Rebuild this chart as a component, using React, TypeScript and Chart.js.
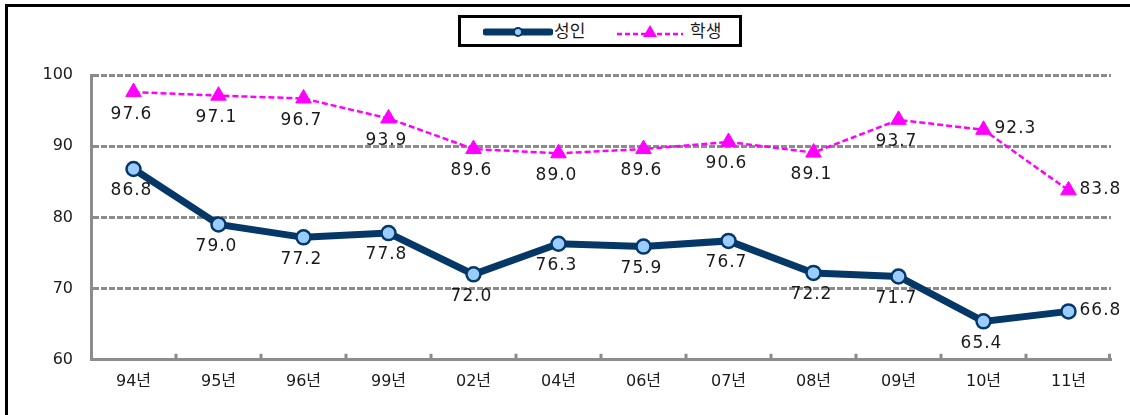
import React, { useEffect, useRef } from "react";
import { Chart, registerables } from "chart.js";

Chart.register(...registerables);

const categories = ["94년", "95년", "96년", "99년", "02년", "04년", "06년", "07년", "08년", "09년", "10년", "11년"];
const adultValues = [86.8, 79.0, 77.2, 77.8, 72.0, 76.3, 75.9, 76.7, 72.2, 71.7, 65.4, 66.8];
const studentValues = [97.6, 97.1, 96.7, 93.9, 89.6, 89.0, 89.6, 90.6, 89.1, 93.7, 92.3, 83.8];
const adultLabelSide = ["below", "below", "below", "below", "below", "below", "below", "below", "below", "below", "below", "right"];
const studentLabelSide = ["below", "below", "below", "below", "below", "below", "below", "below", "below", "below", "right", "right"];
const yTicks = [60, 70, 80, 90, 100];
const seriesNames = ["성인", "학생"];

const NAVY = "#053767";
const MAGENTA = "#ff00ff";
const GRID = "#8c8c8c";
const FONT = "'DejaVu Sans', 'Noto Sans CJK KR', sans-serif";

const labelPlugin = {
  id: "valueLabels",
  afterDatasetsDraw(chart: any) {
    const ctx = chart.ctx;
    ctx.save();
    ctx.font = `17px ${FONT}`;
    try {
      (ctx as any).letterSpacing = "1px";
    } catch (e) {}
    ctx.fillStyle = "#1a1a1a";
    ctx.textBaseline = "middle";
    const sides = [adultLabelSide, studentLabelSide];
    chart.data.datasets.forEach((ds: any, di: number) => {
      const meta = chart.getDatasetMeta(di);
      meta.data.forEach((pt: any, i: number) => {
        const v = (ds.data[i] as number).toFixed(1);
        const side = sides[di][i];
        if (side === "right") {
          ctx.textAlign = "left";
          ctx.fillText(v, pt.x + 11, pt.y - 1);
        } else {
          ctx.textAlign = "center";
          ctx.fillText(v, pt.x - 2, pt.y + 22);
        }
      });
    });
    ctx.restore();
  },
};

const tickPlugin = {
  id: "innerTicks",
  beforeDatasetsDraw(chart: any) {
    const ctx = chart.ctx;
    const area = chart.chartArea;
    const n = categories.length;
    const w = (area.right - area.left) / n;
    ctx.save();
    ctx.strokeStyle = GRID;
    ctx.lineWidth = 3;
    ctx.beginPath();
    for (let i = 1; i <= n; i++) {
      const x = Math.round(area.left + i * w) - (i === n ? 1.5 : 0);
      ctx.moveTo(x, area.bottom);
      ctx.lineTo(x, area.bottom - 6);
    }
    ctx.stroke();
    ctx.restore();
  },
};

export default function App() {
  const ref = useRef<HTMLCanvasElement | null>(null);

  useEffect(() => {
    document.body.style.margin = "0";
    if (!ref.current) return;
    const chart = new Chart(ref.current, {
      type: "line",
      data: {
        labels: categories,
        datasets: [
          {
            label: seriesNames[0],
            data: adultValues,
            borderColor: NAVY,
            borderWidth: 7,
            pointStyle: "circle",
            pointRadius: 7,
            pointBackgroundColor: "#99ccff",
            pointBorderColor: NAVY,
            pointBorderWidth: 2.5,
            tension: 0,
          },
          {
            label: seriesNames[1],
            data: studentValues,
            borderColor: MAGENTA,
            borderWidth: 2.5,
            borderDash: [6, 3],
            pointStyle: "triangle",
            pointRadius: 9,
            pointBackgroundColor: MAGENTA,
            pointBorderColor: MAGENTA,
            pointBorderWidth: 1,
            tension: 0,
          },
        ],
      },
      options: {
        animation: false,
        responsive: false,
        layout: { padding: { top: 75, right: 19, bottom: 12, left: 0 } },
        plugins: {
          legend: { display: false },
          tooltip: { enabled: false },
        },
        scales: {
          x: {
            offset: true,
            grid: { display: false, drawTicks: false },
            border: { display: true, color: GRID, width: 3 },
            ticks: {
              color: "#1a1a1a",
              font: { family: FONT, size: 16 },
              padding: 12,
              maxRotation: 0,
            },
          },
          y: {
            min: 60,
            max: 100,
            afterBuildTicks: (scale: any) => {
              scale.ticks = yTicks.map((v) => ({ value: v }));
            },
            afterFit: (scale: any) => {
              scale.width = 91;
            },
            grid: { color: GRID, lineWidth: 3, drawTicks: false },
            border: { display: true, color: GRID, width: 3, dash: [6, 2] },
            ticks: {
              color: "#1a1a1a",
              font: { family: FONT, size: 16 },
              padding: 18,
            },
          },
        },
      },
      plugins: [tickPlugin, labelPlugin],
    });
    return () => chart.destroy();
  }, []);

  return (
    <div style={{ position: "relative", width: 1130, height: 415, overflow: "hidden", background: "#fff" }}>
      <div
        style={{
          position: "absolute",
          left: 5,
          top: 4,
          width: 1200,
          height: 500,
          borderLeft: "3px solid #000",
          borderTop: "3px solid #000",
          boxSizing: "border-box",
        }}
      />
      <canvas ref={ref} width={1130} height={415} style={{ position: "absolute", left: 0, top: 0 }} />
      <div
        style={{
          position: "absolute",
          left: 458,
          top: 15,
          width: 284,
          height: 32,
          border: "3px solid #000",
          boxSizing: "border-box",
          background: "#fff",
          fontFamily: FONT,
          fontSize: 17,
          color: "#1a1a1a",
        }}
      >
        <svg width={70} height={14} style={{ position: "absolute", left: 22, top: 7 }}>
          <line x1={3} y1={7} x2={67} y2={7} stroke={NAVY} strokeWidth={7} strokeLinecap="round" />
          <circle cx={35} cy={7} r={4} fill="#99ccff" stroke={NAVY} strokeWidth={2} />
        </svg>
        <span style={{ position: "absolute", left: 93, top: 3, lineHeight: "20px" }}>{seriesNames[0]}</span>
        <svg width={70} height={18} style={{ position: "absolute", left: 154, top: 5 }}>
          <line x1={2} y1={11} x2={68} y2={11} stroke={MAGENTA} strokeWidth={2.5} strokeDasharray="5 3" />
          <polygon points="35,2 42,14 28,14" fill={MAGENTA} />
        </svg>
        <span style={{ position: "absolute", left: 229, top: 3, lineHeight: "20px" }}>{seriesNames[1]}</span>
      </div>
    </div>
  );
}
